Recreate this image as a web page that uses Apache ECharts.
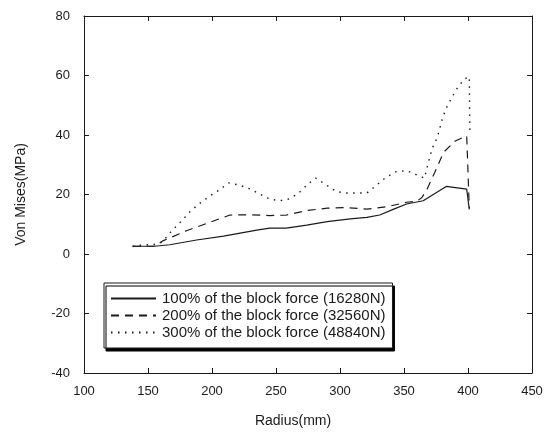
<!DOCTYPE html>
<html>
<head>
<meta charset="utf-8">
<script src="https://cdn.jsdelivr.net/npm/echarts@6/dist/echarts.min.js"></script>
<style>html,body{margin:0;padding:0;background:#fff;}#c{width:553px;height:443px;}</style>
</head>
<body>
<div id="c"></div>
<script>
const seriesNames = [
  '100% of the block force (16280N)',
  '200% of the block force (32560N)',
  '300% of the block force (48840N)'
];
const xTicks = [100, 150, 200, 250, 300, 350, 400, 450];
const yTicks = [-40, -20, 0, 20, 40, 60, 80];

const r100 = [138,155,167,188,209,222,235,245,258,274,290,308,321,331,342,352,365,383,399,401];
const v100 = [2.6,2.6,3.1,4.7,6.0,7.0,8.0,8.7,8.7,9.7,10.9,11.8,12.3,13.1,15.1,16.8,17.9,22.7,21.8,15.0];

const r200 = [138,155,162,180,198,214,230,245,258,274,290,305,321,337,352,360,364,368,374,381,390,399,401];
const v200 = [2.6,2.6,4.5,7.8,10.6,13.1,13.2,12.9,13.1,14.6,15.4,15.6,15.1,15.9,17.4,17.7,19.0,21.8,27.4,34.2,38.0,39.7,15.4];

const r300 = [138,146,155,161,168,176,183,190,198,206,213,221,229,237,245,253,260,267,275,281,289,297,305,313,321,329,336,344,352,359,366,368,372,376,378,380,383,387,391,397,401,401.5];
const v300 = [2.6,3.0,3.2,4.0,7.5,11.0,14.3,16.9,19.4,21.6,23.9,23.2,22.0,20.2,18.5,17.9,18.5,20.2,23.5,25.5,23.3,21.0,20.5,20.5,20.5,23.3,25.8,27.7,28.0,26.8,25.5,29.0,35.5,39.2,42.3,45.6,49.0,52.3,55.4,58.8,59.6,41.0];

const pairs = (xs, ys) => xs.map((x, i) => [x, ys[i]]);
const font = 'Liberation Sans, Arial, sans-serif';
const ink = '#1a1a1a';

const chart = echarts.init(document.getElementById('c'), null, {renderer: 'canvas'});
const axisCommon = {
  type: 'value',
  axisLine: {show: true, onZero: false, lineStyle: {color: ink, width: 1}},
  axisTick: {show: true, inside: true, length: 5, lineStyle: {color: ink, width: 1}},
  splitLine: {show: false},
};
chart.setOption({
  animation: false,
  backgroundColor: '#fff',
  grid: {left: 84, right: 21, top: 16, bottom: 70, containLabel: false},
  xAxis: [
    Object.assign({}, axisCommon, {
      position: 'bottom', min: xTicks[0], max: xTicks[xTicks.length - 1], interval: 50,
      axisLabel: {color: ink, fontFamily: font, fontSize: 13, margin: 12},
      name: 'Radius(mm)', nameLocation: 'middle', nameGap: 41,
      nameTextStyle: {color: ink, fontFamily: font, fontSize: 14, padding: [0, 30, 0, 0]}
    }),
    Object.assign({}, axisCommon, {
      position: 'top', min: xTicks[0], max: xTicks[xTicks.length - 1], interval: 50,
      axisLabel: {show: false}
    })
  ],
  yAxis: [
    Object.assign({}, axisCommon, {
      position: 'left', min: yTicks[0], max: yTicks[yTicks.length - 1], interval: 20,
      axisLabel: {color: ink, fontFamily: font, fontSize: 13, margin: 14},
      name: 'Von Mises(MPa)', nameLocation: 'middle', nameGap: 56,
      nameTextStyle: {color: ink, fontFamily: font, fontSize: 14}
    }),
    Object.assign({}, axisCommon, {
      position: 'right', min: yTicks[0], max: yTicks[yTicks.length - 1], interval: 20,
      axisLabel: {show: false}
    })
  ],
  legend: {
    left: 104, top: 283, orient: 'vertical',
    padding: [8, 7, 8, 6],
    itemWidth: 45, itemHeight: 14, itemGap: 2,
    backgroundColor: '#fff',
    borderColor: ink, borderWidth: 1,
    shadowColor: '#000', shadowBlur: 0, shadowOffsetX: 2, shadowOffsetY: 3,
    itemStyle: {opacity: 0},
    textStyle: {color: ink, fontFamily: font, fontSize: 15, lineHeight: 14, padding: [0, 0, 0, 1]},
    data: seriesNames
  },
  series: [
    {name: seriesNames[0], type: 'line', symbol: 'none', data: pairs(r100, v100),
     lineStyle: {color: ink, width: 1.2, type: 'solid'}, itemStyle: {color: ink}},
    {name: seriesNames[1], type: 'line', symbol: 'none', data: pairs(r200, v200),
     lineStyle: {color: ink, width: 1.2, type: [8, 6]}, itemStyle: {color: ink}},
    {name: seriesNames[2], type: 'line', symbol: 'none', data: pairs(r300, v300),
     lineStyle: {color: ink, width: 1.4, type: [1.5, 5.5]}, itemStyle: {color: ink}}
  ]
});
</script>
</body>
</html>
